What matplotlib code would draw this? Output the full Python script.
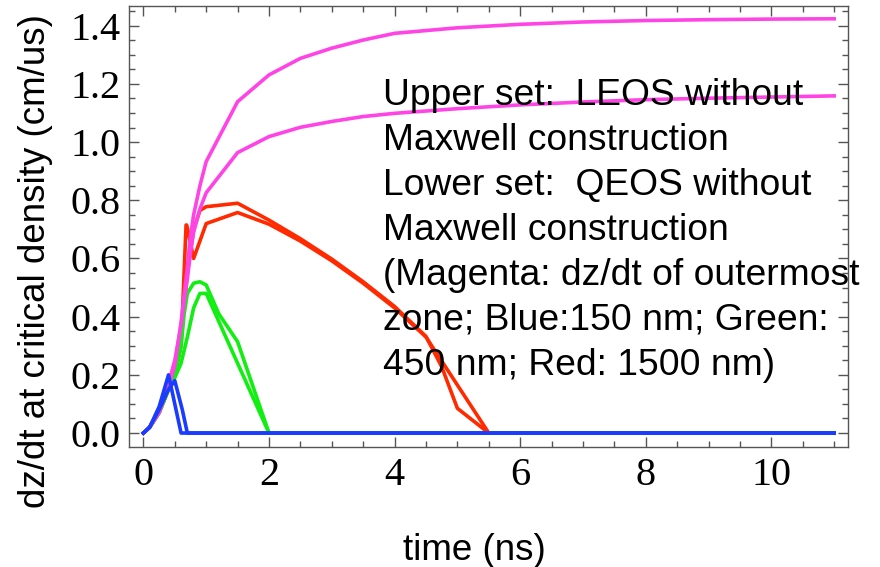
import numpy as np
import matplotlib
matplotlib.use('Agg')
import matplotlib.pyplot as plt
from matplotlib.ticker import MultipleLocator

# outermost zone (magenta)
t_mag = [0, 0.1, 0.25, 0.4, 0.5, 0.6, 0.7, 0.75, 0.8, 0.9, 1.0, 1.5, 2.0, 2.5,
         3.0, 3.5, 4.0, 5.0, 6.0, 7.0, 8.0, 9.0, 10.0, 11.0]
mag_upper = [0, 0.02, 0.07, 0.16, 0.23, 0.38, 0.57, 0.675, 0.75, 0.85, 0.933,
             1.139, 1.231, 1.288, 1.323, 1.351, 1.374, 1.393, 1.405, 1.413,
             1.418, 1.421, 1.423, 1.424]
mag_lower = [0, 0.02, 0.08, 0.17, 0.25, 0.37, 0.53, 0.62, 0.69, 0.77, 0.826,
             0.964, 1.019, 1.051, 1.071, 1.088, 1.099, 1.115, 1.128, 1.138,
             1.146, 1.151, 1.155, 1.159]

# 1500 nm (red)
t_red1 = [0, 0.1, 0.25, 0.4, 0.5, 0.6, 0.7, 0.8, 0.9, 1.0, 1.5, 2.0, 2.5, 3.0,
          3.5, 4.0, 4.5, 4.75, 5.0, 5.5, 11.0]
red_upper = [0, 0.02, 0.07, 0.15, 0.2, 0.33, 0.55, 0.70, 0.765, 0.778, 0.79,
             0.732, 0.668, 0.598, 0.52, 0.435, 0.332, 0.228, 0.085, 0, 0]
t_red2 = [0, 0.1, 0.25, 0.4, 0.5, 0.6, 0.68, 0.69, 0.8, 1.0, 1.5, 2.0, 2.5,
          3.0, 3.5, 4.0, 4.5, 5.5, 11.0]
red_lower = [0, 0.02, 0.07, 0.15, 0.2, 0.3, 0.715, 0.715, 0.60, 0.72, 0.758,
             0.718, 0.66, 0.592, 0.515, 0.43, 0.33, 0, 0]

# 450 nm (green)
t_grn1 = [0, 0.1, 0.25, 0.4, 0.5, 0.6, 0.65, 0.7, 0.8, 0.9, 1.0, 1.2, 1.5,
          2.0, 11.0]
grn_upper = [0, 0.02, 0.07, 0.15, 0.2, 0.30, 0.41, 0.48, 0.515, 0.52, 0.509,
             0.41, 0.314, 0, 0]
t_grn2 = [0, 0.1, 0.25, 0.4, 0.5, 0.6, 0.7, 0.8, 0.9, 1.0, 2.0, 11.0]
grn_lower = [0, 0.02, 0.07, 0.15, 0.19, 0.24, 0.33, 0.43, 0.48, 0.48, 0, 0]

# 150 nm (blue)
t_blu1 = [0, 0.1, 0.25, 0.4, 0.6, 11.0]
blu_a = [0, 0.02, 0.09, 0.2, 0, 0]
t_blu2 = [0, 0.1, 0.25, 0.4, 0.5, 0.62, 0.7, 11.0]
blu_b = [0, 0.02, 0.08, 0.15, 0.18, 0.08, 0, 0]

note_lines = ["Upper set:  LEOS without",
              "Maxwell construction",
              "Lower set:  QEOS without",
              "Maxwell construction",
              "(Magenta: dz/dt of outermost",
              "zone; Blue:150 nm; Green:",
              "450 nm; Red: 1500 nm)"]

magenta = '#ff44e6'
red = '#ff2a00'
green = '#11ee11'
blue = '#1a3cff'
frame = '#555555'
lw = 2.6

fig = plt.figure(figsize=(8.8, 5.67), dpi=100)
ax = fig.add_axes([129/880, 1-447/567, (848-129)/880, (447-5.7)/567])

ax.plot(t_red1, red_upper, color=red, lw=lw, zorder=3)
ax.plot(t_red2, red_lower, color=red, lw=lw, zorder=3)
ax.plot(t_grn1, grn_upper, color=green, lw=lw, zorder=3)
ax.plot(t_grn2, grn_lower, color=green, lw=lw, zorder=3)
ax.plot(t_mag, mag_upper, color=magenta, lw=lw, zorder=4)
ax.plot(t_mag, mag_lower, color=magenta, lw=lw, zorder=4)
ax.plot(t_blu1, blu_a, color=blue, lw=lw, zorder=5)
ax.plot(t_blu2, blu_b, color=blue, lw=lw, zorder=5)

ax.set_xlim(-0.229, 11.22)
ax.set_ylim(-0.048, 1.469)
ax.xaxis.set_major_locator(MultipleLocator(2))
ax.xaxis.set_minor_locator(MultipleLocator(0.5))
ax.yaxis.set_major_locator(MultipleLocator(0.2))
ax.yaxis.set_minor_locator(MultipleLocator(0.05))
ax.yaxis.set_major_formatter(matplotlib.ticker.FormatStrFormatter('%.1f'))

ax.tick_params(which='both', direction='in', top=True, right=True,
               color=frame, width=1)
ax.tick_params(which='major', length=7)
ax.tick_params(which='minor', length=4)
ax.tick_params(axis='x', which='major', pad=7)
ax.tick_params(axis='y', which='major', pad=6)
for lab in ax.get_xticklabels() + ax.get_yticklabels():
    lab.set_fontfamily('Liberation Serif')
    lab.set_fontsize(29)
for sp in ax.spines.values():
    sp.set_color(frame)
    sp.set_linewidth(1)

for i, line in enumerate(note_lines):
    fig.text(383/880, 1 - (105 + 45*i)/567, line, fontsize=26.8,
             family='Liberation Sans', va='baseline', ha='left', zorder=1)

fig.text(474.5/880, 1 - 560/567, 'time (ns)', fontsize=26.5,
         family='Liberation Sans', ha='center', va='baseline')
fig.text(36/880, 1 - 261.5/567, 'dz/dt at critical density (cm/us)',
         fontsize=26.5, family='Liberation Sans', rotation=90,
         ha='center', va='center')

fig.savefig('out.png', dpi=100)
